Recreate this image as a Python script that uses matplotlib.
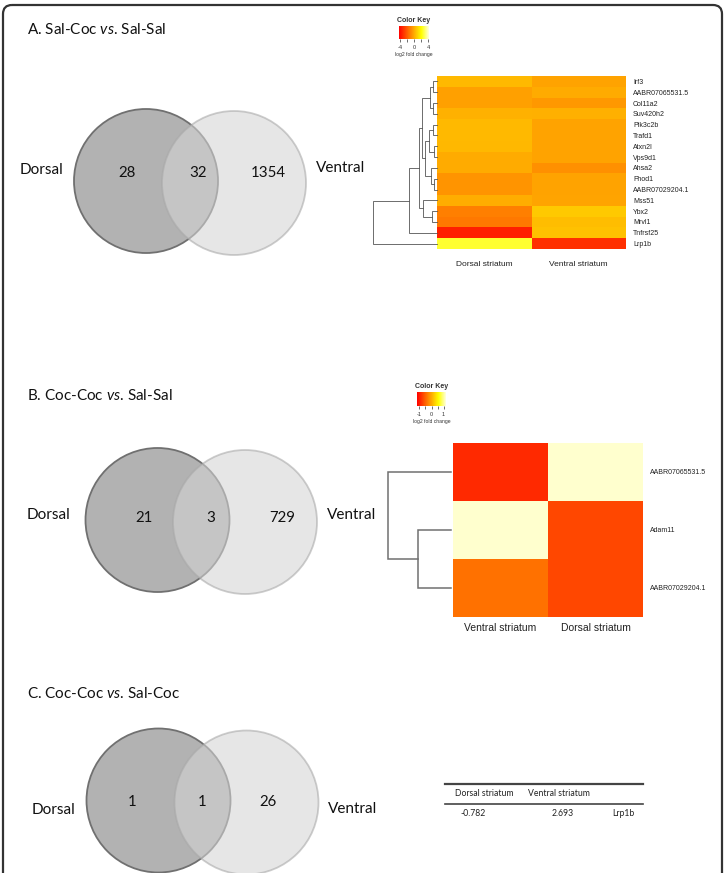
import matplotlib
matplotlib.use("Agg")
import matplotlib.pyplot as plt
import numpy as np
from matplotlib.colors import LinearSegmentedColormap
from matplotlib.patches import Circle, FancyBboxPatch

# Datos de los diagramas de Venn (solo dorsal, ambos, solo ventral)
venn_titles = [r"A. Sal-Coc $\mathit{vs}$. Sal-Sal",
               r"B. Coc-Coc $\mathit{vs}$. Sal-Sal",
               r"C. Coc-Coc $\mathit{vs}$. Sal-Coc"]
venn_counts = [(28, 32, 1354), (21, 3, 729), (1, 1, 26)]

# Heatmap A: log2 fold change
genes_a = ["Irf3", "AABR07065531.5", "Col11a2", "Suv420h2", "Pik3c2b", "Trafd1",
           "Atxn2l", "Vps9d1", "Ahsa2", "Fhod1", "AABR07029204.1", "Mss51",
           "Ybx2", "Mrvl1", "Tnfrsf25", "Lrp1b"]
dorsal_a = [0.4, -0.25, -0.25, 0.2, 0.4, 0.4, 0.35, 0.0, 0.0, -0.55, -0.55, 0.1,
            -1.1, -1.25, -3.5, 2.6]
ventral_a = [-0.2, 0.0, -0.45, 0.15, -0.2, -0.2, -0.2, -0.2, -0.65, -0.2, -0.2, -0.15,
             0.8, 0.5, 0.6, -3.1]
cols_a = ["Dorsal striatum", "Ventral striatum"]
# arbol: (altura, izquierda, derecha), hojas = indice de fila
tree_a = (64, (28, (18, (15, (7, (4, 0, 1), (4, 2, 3)),
                            (12, (8, (4, 4, 5), (3, 6, 7)), (6, 8, (3, 9, 10)))),
                        (14, 11, (5, 12, 13))), 14), 15)

# Heatmap B
genes_b = ["AABR07065531.5", "Adam11", "AABR07029204.1"]
ventral_b = [-0.9, 1.15, -0.4]
dorsal_b = [1.15, -0.7, -0.7]
cols_b = ["Ventral striatum", "Dorsal striatum"]
tree_b = (63, 0, (33, 1, 2))

# Tabla C
table_cols = ["Dorsal striatum", "Ventral striatum"]
table_vals = [-0.782, 2.693]
table_gene = "Lrp1b"

W, H = 726, 873
plt.rcParams["mathtext.fontset"] = "custom"
plt.rcParams["mathtext.rm"] = "Lato"
plt.rcParams["mathtext.it"] = "Lato:italic"
LAB = "Lato"
SANS = "Liberation Sans"

heat = LinearSegmentedColormap.from_list(
    "heat", [(0, "#ff0000"), (0.75, "#ffff00"), (1, "#ffffe0")])

fig = plt.figure(figsize=(W / 100, H / 100), dpi=100)
bg = fig.add_axes([0, 0, 1, 1])
bg.set_xlim(0, W)
bg.set_ylim(H, 0)
bg.axis("off")


def px_axes(x0, y0, x1, y1):
    return fig.add_axes([x0 / W, 1 - y1 / H, (x1 - x0) / W, (y1 - y0) / H])


# marco redondeado
bg.add_patch(FancyBboxPatch((3, 5), 719, 900, boxstyle="round,pad=0,rounding_size=9",
                            fill=False, edgecolor="#333333", linewidth=1.6))

# Venn
title_y = [30, 396, 693]
centers = [((146, 181), (234, 183)), ((157.5, 520), (245, 522)), ((158.5, 800.5), (246.5, 802.5))]
num_x = [(127, 198, 268), (144, 211, 282), (132, 202, 268)]
num_y = [173, 518, 802]
dorsal_xy = [(20, 170), (27, 515), (32, 810)]
ventral_xy = [(316, 168), (327, 515), (328, 809)]
r = 72
for i in range(3):
    bg.text(27, title_y[i], venn_titles[i], fontsize=11, family=LAB,
            ha="left", va="center", color="#111111")
    (cx1, cy1), (cx2, cy2) = centers[i]
    bg.add_patch(Circle((cx1, cy1), r, facecolor="#b2b2b2", edgecolor="#707070", lw=1.3))
    bg.add_patch(Circle((cx2, cy2), r, facecolor="#d4d4d4", edgecolor="#a8a8a8",
                        lw=1.3, alpha=0.58))
    for x, n in zip(num_x[i], venn_counts[i]):
        bg.text(x, num_y[i], str(n), fontsize=10.8, family=LAB, ha="center",
                va="center", color="#111111")
    bg.text(*dorsal_xy[i], "Dorsal", fontsize=11, family=LAB, ha="left",
            va="center", color="#111111")
    bg.text(*ventral_xy[i], "Ventral", fontsize=11, family=LAB, ha="left",
            va="center", color="#111111")


def draw_tree(ax, node, color, lw):
    if isinstance(node, int):
        return node + 0.5, 0
    h, left, right = node
    y1, h1 = draw_tree(ax, left, color, lw)
    y2, h2 = draw_tree(ax, right, color, lw)
    ax.plot([h1, h, h, h2], [y1, y1, y2, y2], color=color, lw=lw,
            solid_joinstyle="miter", clip_on=False)
    return (y1 + y2) / 2, h


def color_key(box, vmin, vmax, ticks, labels):
    cax = px_axes(*box)
    sm = plt.cm.ScalarMappable(cmap=heat, norm=plt.Normalize(vmin, vmax))
    cb = fig.colorbar(sm, cax=cax, orientation="horizontal")
    cb.outline.set_visible(False)
    cb.set_ticks(ticks)
    cb.set_ticklabels(labels)
    cax.tick_params(labelsize=4, length=2.5, width=0.5, pad=1.5, colors="#333333")
    for t in cax.get_xticklabels():
        t.set_family(SANS)
    cax.set_title("Color Key", fontsize=5, family=SANS, weight="bold", pad=3,
                  color="#333333")
    cax.set_xlabel("log2 fold change", fontsize=3.6, family=SANS, labelpad=1.5,
                   color="#333333")


def heatmap(box, dbox, values, genes, cols, tree, vmin, vmax, xmax, gsize, csize,
            cpad, lcolor, lw):
    ax = px_axes(*box)
    ax.pcolormesh(values, cmap=heat, vmin=vmin, vmax=vmax)
    ax.set_ylim(len(genes), 0)
    ax.set_xticks(np.arange(len(cols)) + 0.5)
    ax.set_xticklabels(cols, fontsize=csize, family=SANS, color="#222222")
    ax.set_yticks(np.arange(len(genes)) + 0.5)
    ax.set_yticklabels(genes, fontsize=gsize, family=SANS, color="#222222")
    ax.yaxis.tick_right()
    ax.tick_params(length=0)
    ax.tick_params(axis="y", pad=5)
    ax.tick_params(axis="x", pad=cpad)
    for s in ax.spines.values():
        s.set_visible(False)
    dax = px_axes(*dbox)
    draw_tree(dax, tree, lcolor, lw)
    dax.set_xlim(xmax, 0)
    dax.set_ylim(len(genes), 0)
    dax.axis("off")


heatmap((437, 76, 626, 249), (370, 76, 437, 249),
        np.column_stack([dorsal_a, ventral_a]), genes_a, cols_a, tree_a,
        -4.3, 4.3, 67, 5, 6, 8.5, "#555555", 0.6)
color_key((399, 26, 429, 39), -4.3, 4.3, [-4, -2, 0, 2, 4], ["-4", "", "0", "", "4"])

heatmap((453, 443, 643, 617), (386, 443, 451, 617),
        np.column_stack([ventral_b, dorsal_b]), genes_b, cols_b, tree_b,
        -1.2, 1.2, 65, 5, 7.5, 4, "#707070", 1.1)
color_key((417, 392, 446, 406), -1.2, 1.2, [-1, -0.5, 0, 0.5, 1], ["-1", "", "0", "", "1"])

# tabla C
bg.plot([445, 643], [784, 784], color="#444444", lw=1.6)
bg.plot([445, 643], [804, 804], color="#444444", lw=1.2)
for x, c in zip([484, 559], table_cols):
    bg.text(x, 794, c, fontsize=6.2, family=LAB, ha="center", va="center", color="#222222")
for x, v in zip([473, 563], table_vals):
    bg.text(x, 814, f"{v:.3f}", fontsize=6.2, family=LAB, ha="center", va="center",
            color="#222222")
bg.text(623, 814, table_gene, fontsize=6.2, family=LAB, ha="center", va="center",
        color="#222222")

fig.savefig("out.png", dpi=100)
